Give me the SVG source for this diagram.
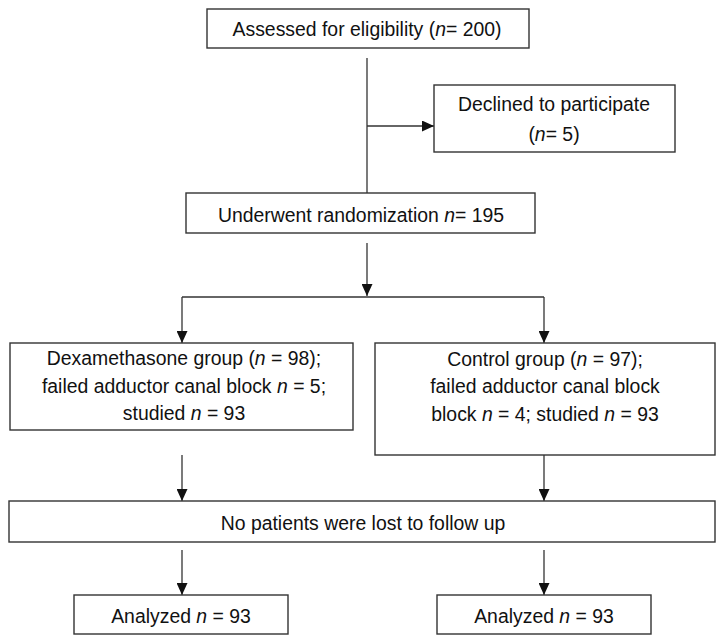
<svg xmlns="http://www.w3.org/2000/svg" width="724" height="643" viewBox="0 0 724 643">
<defs>
<marker id="ah" markerWidth="12" markerHeight="11" refX="12" refY="5.5" orient="auto" markerUnits="userSpaceOnUse"><path d="M0,0 L12,5.5 L0,11 z" fill="#111"/></marker>
</defs>
<style>
.box{fill:#fff;stroke:#333;stroke-width:1.4}
.t{font-family:"Liberation Sans",Arial,sans-serif;font-size:19.4px;fill:#111;text-anchor:middle}
.ln{stroke:#333;stroke-width:1.3;fill:none}
.ar{stroke:#333;stroke-width:1.3;fill:none;marker-end:url(#ah)}
</style>
<rect width="724" height="643" fill="#fff"/>
<g id="connectors">
<line class="ln" x1="367" y1="58" x2="367" y2="193"/>
<line class="ar" x1="367" y1="126" x2="434" y2="126"/>
<line class="ar" x1="367" y1="243" x2="367" y2="296"/>
<line class="ln" x1="182" y1="297" x2="544" y2="297"/>
<line class="ar" x1="182" y1="297" x2="182" y2="343"/>
<line class="ar" x1="544" y1="297" x2="544" y2="343"/>
<line class="ar" x1="182" y1="455" x2="182" y2="501"/>
<line class="ar" x1="544" y1="455" x2="544" y2="501"/>
<line class="ar" x1="182" y1="550" x2="182" y2="595"/>
<line class="ar" x1="544" y1="550" x2="544" y2="595"/>
</g>
<g id="assessed"><rect class="box" x="207" y="9" width="322" height="39"/><text class="t" x="367" y="36">Assessed for eligibility (<tspan font-style="italic">n</tspan>= 200)</text></g>
<g id="declined"><rect class="box" x="434" y="85" width="241" height="67"/><text class="t" x="554" y="111">Declined to participate</text><text class="t" x="554" y="141">(<tspan font-style="italic">n</tspan>= 5)</text></g>
<g id="randomization"><rect class="box" x="186" y="193" width="349" height="40"/><text class="t" x="361" y="222">Underwent randomization <tspan font-style="italic">n</tspan>= 195</text></g>
<g id="dexa"><rect class="box" x="10" y="343" width="343" height="87"/>
<text class="t" x="184" y="365">Dexamethasone group (<tspan font-style="italic">n</tspan> = 98);</text>
<text class="t" x="184" y="393">failed adductor canal block <tspan font-style="italic">n</tspan> = 5;</text>
<text class="t" x="184" y="420">studied <tspan font-style="italic">n</tspan> = 93</text></g>
<g id="control"><rect class="box" x="375" y="343" width="340" height="112"/>
<text class="t" x="545" y="366">Control group (<tspan font-style="italic">n</tspan> = 97);</text>
<text class="t" x="545" y="393">failed adductor canal block</text>
<text class="t" x="545" y="421">block <tspan font-style="italic">n</tspan> = 4; studied <tspan font-style="italic">n</tspan> = 93</text></g>
<g id="nolost"><rect class="box" x="9" y="501" width="706" height="41"/><text class="t" x="363" y="530">No patients were lost to follow up</text></g>
<g id="analyzed1"><rect class="box" x="74" y="595" width="214" height="39"/><text class="t" x="181" y="623">Analyzed <tspan font-style="italic">n</tspan> = 93</text></g>
<g id="analyzed2"><rect class="box" x="437" y="595" width="214" height="39"/><text class="t" x="544" y="623">Analyzed <tspan font-style="italic">n</tspan> = 93</text></g>
</svg>
